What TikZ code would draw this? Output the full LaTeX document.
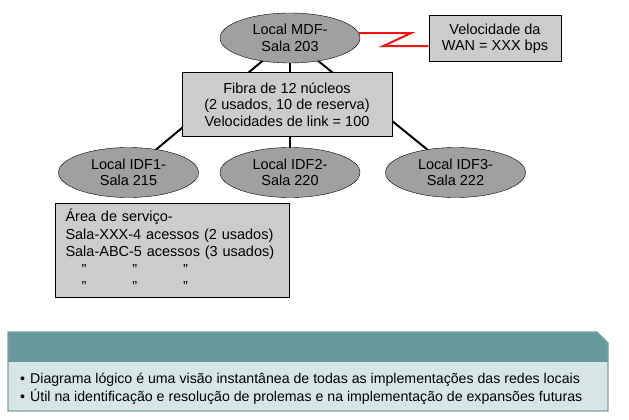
\documentclass[tikz,border=0pt]{standalone}
\usepackage{fontspec}
\setmainfont{Liberation Sans}
\usetikzlibrary{shapes.geometric,backgrounds}
\definecolor{sitegray}{RGB}{160,160,160}
\definecolor{boxgray}{RGB}{204,204,204}
\definecolor{teal}{RGB}{102,153,153}
\definecolor{tealpale}{RGB}{216,229,229}
\definecolor{tealedge}{RGB}{120,160,160}
\definecolor{wanred}{RGB}{240,20,20}
\tikzset{
  site/.style={ellipse,draw=black,fill=sitegray,minimum width=140pt,
    minimum height=50pt,inner sep=0pt,align=center,
    font=\fontsize{14.5}{16.5}\selectfont},
  infobox/.style={draw=black,fill=boxgray,line width=1pt,inner sep=0pt,
    align=center,font=\fontsize{14.5}{16.5}\selectfont},
  link/.style={black,line width=2pt},
  wan/.style={wanred,line width=2pt},
  note/.style={font=\fontsize{14.15}{18}\selectfont,align=left,inner sep=0pt},
}

\begin{document}
\begin{tikzpicture}[x=1pt,y=-1pt]
  \useasboundingbox (0,0) rectangle (629,420);
  % sites
  \node[site] (mdf) at (290,38) {Local MDF-\\Sala 203};
  \node[site] (idfA) at (128.5,172.5) {Local IDF1-\\Sala 215};
  \node[site] (idfB) at (290,172.5) {Local IDF2-\\Sala 220};
  \node[site] (idfC) at (455.5,172.5) {Local IDF3-\\Sala 222};
  % boxes
  \node[infobox,minimum width=132pt,minimum height=46pt] (wanbox) at (495,39)
    {Velocidade da\\WAN = XXX bps};
  \node[infobox,minimum width=210pt,minimum height=63pt] (fiber) at (287,104.5)
    {Fibra de 12 núcleos\\(2 usados, 10 de reserva)\\Velocidades de link = 100};
  \node[infobox,align=left,anchor=north west,text width=214pt,
    minimum width=234pt,minimum height=94pt,inner xsep=10pt,
    font=\fontsize{14.5}{17.5}\selectfont] (area) at (55,203)
    {Área de serviço-\\Sala-XXX-4 acessos (2 usados)\\Sala-ABC-5 acessos (3 usados)\\
     \hspace*{16pt}"\hspace{46pt}"\hspace{46pt}"\\
     \hspace*{16pt}"\hspace{46pt}"\hspace{46pt}"};
  \begin{scope}[on background layer]
    \foreach \n in {idfA,idfB,idfC}
      \draw[link] (mdf.center) -- (\n.center);
  \end{scope}
  % wan link
  \draw[wan] (mdf.4) -- ++(52,0) coordinate (zigA) -- ++(-28,13) coordinate (zigB)
    -- (zigB -| wanbox.west);
  % summary panel
  \fill[teal] (8,332) -- (597,332) -- (608,343) -- (608,362) -- (8,362) -- cycle;
  \fill[tealpale] (8,362) rectangle (608,411);
  \draw[tealedge,line width=1.2pt] (8,332) -- (597,332) -- (608,343) -- (608,411)
    -- (8,411) -- cycle;
  \node[note,anchor=west] (points) at (20,389)
    {\textbullet\hspace{5pt}Diagrama lógico é uma visão instantânea de todas as implementações das redes locais\\
     \textbullet\hspace{5pt}Útil na identificação e resolução de prolemas e na implementação de expansões futuras};
\end{tikzpicture}
\end{document}
